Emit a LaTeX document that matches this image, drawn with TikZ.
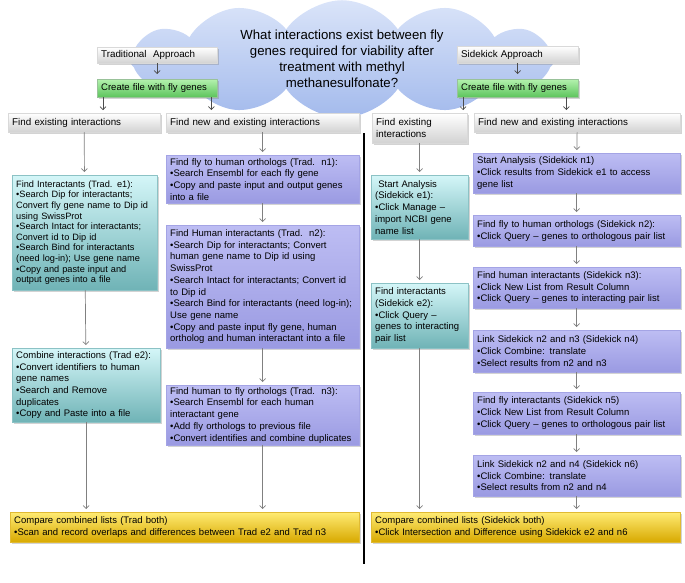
\documentclass[tikz,border=0pt]{standalone}
\usepackage{fontspec}
\setmainfont{Liberation Sans}
\usetikzlibrary{shapes.symbols,shadows,arrows.meta}
\definecolor{greytop}{HTML}{FFFFFF}
\definecolor{greybot}{HTML}{D2D2D2}
\definecolor{greentop}{HTML}{B4F2AE}
\definecolor{greenbot}{HTML}{5CC45C}
\definecolor{tealtop}{HTML}{D4F6F8}
\definecolor{tealbot}{HTML}{6FB3B6}
\definecolor{purptop}{HTML}{BDBDF3}
\definecolor{purpbot}{HTML}{9A9AE2}
\definecolor{yeltop}{HTML}{FFEB73}
\definecolor{yelbot}{HTML}{D8A900}
\definecolor{cloudtop}{HTML}{DAE4F9}
\definecolor{cloudbot}{HTML}{A3BAEC}
\begin{document}
\begin{tikzpicture}[x=1pt, y=-1pt, font=\fontsize{9.5}{11.7}\selectfont, line join=round, line cap=round,
	>={Straight Barb[length=3pt,width=6pt]},
	box/.style={anchor=north west, inner xsep=4pt, inner ysep=2pt, align=left,
		drop shadow={shadow xshift=1.5pt, shadow yshift=-1.5pt, opacity=0.35}},
	greybox/.style={box, top color=greytop, bottom color=greybot, draw=black!15, font=\fontsize{9.8}{11.7}\selectfont},
	greenbox/.style={box, top color=greentop, bottom color=greenbot, draw=green!40!black!40},
	ebox/.style={box, top color=tealtop, bottom color=tealbot, draw=tealbot!80},
	nbox/.style={box, top color=purptop, bottom color=purpbot, draw=purpbot!90},
	cbox/.style={box, top color=yeltop, bottom color=yelbot, draw=yelbot!80},
	con/.style={->, draw=black!50, line width=0.7pt, shorten >=3pt}]
	\useasboundingbox (0,0) rectangle (685,582);
	% question
	\node[cloud, cloud puffs=12, cloud puff arc=110, cloud ignores aspect, minimum width=425pt, minimum height=116pt,
		top color=cloudtop, bottom color=cloudbot, inner sep=0pt, align=center,
		font=\fontsize{13.2}{16}\selectfont] (question) at (342,59)
		{What interactions exist between fly\\genes required for viability after\\treatment with methyl\\methanesulfonate?};
	% traditional
	\node[greybox, text width=112pt, minimum height=16pt] (tApp) at (97,47) {Traditional\ \ Approach};
	\node[greenbox, text width=112pt, minimum height=18pt] (tFile) at (97,79) {Create file with fly genes};
	\node[greybox, text width=144pt, minimum height=19pt] (tExist) at (8,113) {Find existing interactions};
	\node[greybox, text width=185pt, minimum height=19pt] (tNew) at (166,113) {Find new and existing interactions};
	\node[ebox, text width=137pt, minimum height=115pt, font=\fontsize{9.2}{10.6}\selectfont] (tE1) at (12,175)
		{Find Interactants (Trad. e1):\\•Search Dip for interactants;\\Convert fly gene name to Dip id\\using SwissProt\\•Search Intact for interactants;\\Convert id to Dip id\\•Search Bind for interactants\\(need log-in); Use gene name\\•Copy and paste input and\\output genes into a file};
	\node[ebox, text width=140pt, minimum height=74pt] (tE2) at (12,348)
		{Combine interactions (Trad e2):\\•Convert identifiers to human\\gene names\\•Search and Remove\\duplicates\\•Copy and Paste into a file};
	\node[nbox, text width=185pt, minimum height=48pt] (tN1) at (166,155)
		{Find fly to human orthologs (Trad.\ \ n1):\\•Search Ensembl for each fly gene\\•Copy and paste input and output genes\\into a file};
	\node[nbox, text width=185pt, minimum height=123pt] (tN2) at (166,225)
		{Find Human interactants (Trad.\ \ n2):\\•Search Dip for interactants; Convert\\human gene name to Dip id using\\SwissProt\\•Search Intact for interactants; Convert id\\to Dip id\\•Search Bind for interactants (need log-in);\\Use gene name\\•Copy and paste input fly gene, human\\ortholog and human interactant into a file};
	\node[nbox, text width=185pt, minimum height=60pt] (tN3) at (166,385)
		{Find human to fly orthologs (Trad.\ \ n3):\\•Search Ensembl for each human\\interactant gene\\•Add fly orthologs to previous file\\•Convert identifies and combine duplicates};
	\node[cbox, text width=341pt, minimum height=30pt] (tBoth) at (10,512)
		{Compare combined lists (Trad both)\\•Scan and record overlaps and differences between Trad e2 and Trad n3};
	% sidekick
	\node[greybox, text width=113pt, minimum height=17pt] (sApp) at (457,46) {Sidekick Approach};
	\node[greenbox, text width=113pt, minimum height=18pt] (sFile) at (457,79) {Create file with fly genes};
	\node[greybox, text width=87pt, minimum height=30pt] (sExist) at (372,113) {Find existing\\interactions};
	\node[greybox, text width=198pt, minimum height=19pt] (sNew) at (474,113) {Find new and existing interactions};
	\node[ebox, text width=89pt, minimum height=64pt] (sE1) at (371,175)
		{\ Start Analysis\\(Sidekick e1):\\•Click Manage –\\import NCBI gene\\name list};
	\node[ebox, text width=89pt, minimum height=65pt] (sE2) at (371,283)
		{Find interactants\\(Sidekick e2):\\•Click Query –\\genes to interacting\\pair list};
	\node[nbox, text width=199pt, minimum height=40pt] (sN1) at (473,153)
		{Start Analysis (Sidekick n1)\\•Click results from Sidekick e1 to access\\gene list};
	\node[nbox, text width=199pt, minimum height=31pt] (sN2) at (473,215)
		{Find fly to human orthologs (Sidekick n2):\\•Click Query – genes to orthologous pair list};
	\node[nbox, text width=199pt, minimum height=41pt] (sN3) at (473,267)
		{Find human interactants (Sidekick n3):\\•Click New List from Result Column\\•Click Query – genes to interacting pair list};
	\node[nbox, text width=199pt, minimum height=42pt] (sN4) at (473,330)
		{Link Sidekick n2 and n3 (Sidekick n4)\\•Click Combine: translate\\•Select results from n2 and n3};
	\node[nbox, text width=199pt, minimum height=42pt] (sN5) at (473,392)
		{Find fly interactants (Sidekick n5)\\•Click New List from Result Column\\•Click Query – genes to orthologous pair list};
	\node[nbox, text width=199pt, minimum height=41pt] (sN6) at (473,455)
		{Link Sidekick n2 and n4 (Sidekick n6)\\•Click Combine: translate\\•Select results from n2 and n4};
	\node[cbox, text width=301pt, minimum height=30pt] (sBoth) at (371,512)
		{Compare combined lists (Sidekick both)\\•Click Intersection and Difference using Sidekick e2 and n6};
	% divider
	\draw[line width=2.5pt, line cap=butt] (364,133) -- (364,564);
	% connectors
	\draw[con, shorten >=5pt, draw=black!70] (tApp) -- (tFile);
	\draw[con, shorten >=5pt, draw=black!70] (sApp) -- (sFile);
	\draw[con, draw=black!70] ([xshift=6pt]tFile.south west) -- ([xshift=6pt]tFile.south west |- tExist.north);
	\draw[con, draw=black!70] ([xshift=-6pt]tFile.south east) -- ([xshift=-6pt]tFile.south east |- tNew.north);
	\draw[con, draw=black!70] ([xshift=6pt]sFile.south west) -- ([xshift=6pt]sFile.south west |- sExist.north);
	\draw[con, draw=black!70] ([xshift=-12pt]sFile.south east) -- ([xshift=-12pt]sFile.south east |- sNew.north);
	\draw[con] (tExist) -- (tE1);
	\draw[con] (tE1) -- (tE2);
	\draw[con] (tE2.south) -- (tE2.south |- tBoth.north);
	\draw[con] (tNew) -- (tN1);
	\draw[con] (tN1) -- (tN2);
	\draw[con] (tN2) -- (tN3);
	\draw[con] (tN3.south) -- (tN3.south |- tBoth.north);
	\draw[con] (sExist) -- (sE1);
	\draw[con] (sE1) -- (sE2);
	\draw[con] (sE2.south) -- (sE2.south |- sBoth.north);
	\draw[con] (sNew) -- (sN1);
	\draw[con] (sN1) -- (sN2);
	\draw[con] (sN2) -- (sN3);
	\draw[con] (sN3) -- (sN4);
	\draw[con] (sN4) -- (sN5);
	\draw[con] (sN5) -- (sN6);
	\draw[con] (sN6.south) -- (sN6.south |- sBoth.north);
\end{tikzpicture}
\end{document}
